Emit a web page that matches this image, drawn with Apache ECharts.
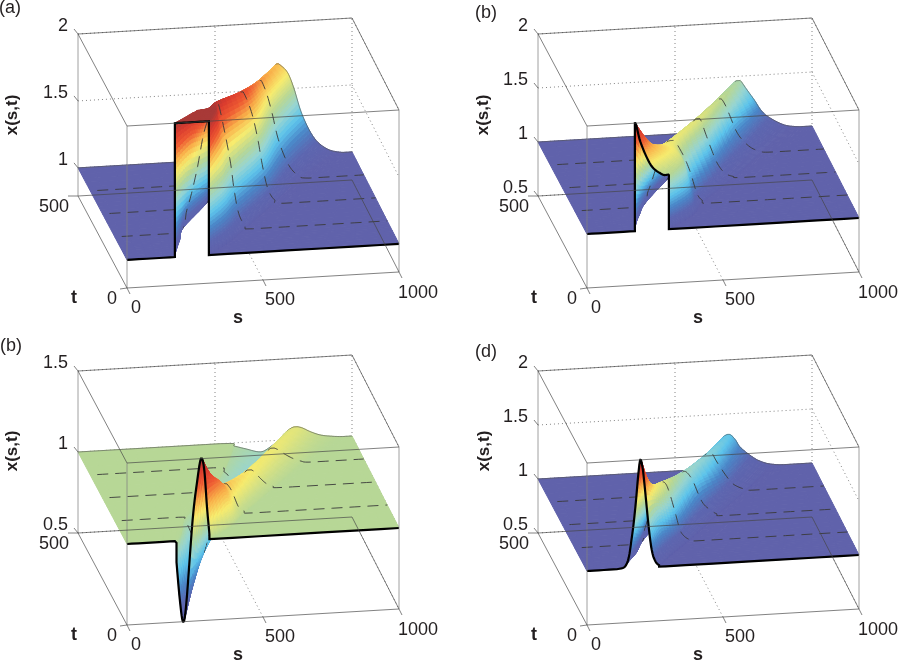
<!DOCTYPE html>
<html><head><meta charset="utf-8">
<style>html,body{margin:0;padding:0;background:#fff}#c{width:898px;height:661px}</style>
<script src="https://cdn.jsdelivr.net/npm/echarts@6/dist/echarts.min.js"></script>
</head><body><div id="c"></div>
<script>
// time rows of every surface mesh; the dashed isolines sit on t = 125, 250, 375
const tRows = [0, 60, 125, 250, 375, 500];
const dashedT = [125, 250, 375];
const sTicks = [0, 500, 1000];
const tTicks = [0, 500];

// Panel (a)
const sA = [
 [0,176,176,176,176,176,240,301,301,301,301,301,301,301,1000],
 [0,198,215,235,255,275,310,345,355,368,376,386,398,415,1000],
 [0,225,266,300,325,345,362,378,402,425,438,455,478,505,1000],
 [0,340,415,450,478,490,500,515,545,568,585,605,630,665,1000],
 [0,445,510,560,590,605,615,625,645,665,688,722,757,800,1000],
 [0,570,620,670,700,716,726,738,765,788,818,862,912,965,1000]];
const zA = [
 [1,1,1.25,1.5,1.75,2,2,2,1.75,1.5,1.3,1.12,1.03,1,1],
 [1,1,1.2,1.5,1.78,1.99,2,2,1.78,1.5,1.3,1.12,1.03,1,1],
 [1,1,1.18,1.45,1.72,1.85,1.93,1.96,1.75,1.5,1.3,1.12,1.03,1,1],
 [1,1,1.18,1.4,1.65,1.77,1.84,1.85,1.7,1.5,1.3,1.12,1.03,1,1],
 [1,1,1.2,1.47,1.65,1.72,1.75,1.75,1.65,1.5,1.3,1.12,1.03,1,1],
 [1,1,1.2,1.45,1.6,1.67,1.69,1.68,1.62,1.5,1.3,1.12,1.03,1,1]];
const zTicksA = [1, 1.5, 2];

// Panel (b), upper right
const sB = [
 [0,176,176,176,176,196,221,245,282,301,301,301,301,301,1000],
 [0,195,215,235,255,275,310,340,360,372,385,398,408,425,1000],
 [0,232,270,295,315,335,350,365,385,405,425,448,468,500,1000],
 [0,345,400,435,460,475,490,505,525,545,568,595,625,665,1000],
 [0,465,520,555,580,597,612,625,640,655,685,725,765,810,1000],
 [0,585,630,670,700,715,725,738,760,790,815,845,900,955,1000]];
const zB = [
 [1,1,1.3,1.65,2,1.826,1.67,1.57,1.505,1.5,1.35,1.17,1.04,1,1],
 [1,1,1.2,1.45,1.65,1.68,1.64,1.6,1.55,1.5,1.35,1.17,1.04,1,1],
 [1,1,1.15,1.33,1.48,1.58,1.6,1.6,1.52,1.42,1.29,1.1,1.03,1,1],
 [1,1,1.12,1.3,1.45,1.53,1.57,1.56,1.42,1.28,1.14,1.05,1.015,1,1],
 [1,1,1.12,1.28,1.4,1.48,1.52,1.52,1.46,1.37,1.19,1.07,1.015,1,1],
 [1,1,1.1,1.25,1.38,1.44,1.46,1.46,1.38,1.27,1.17,1.1,1.024,1,1]];
const zTicksB = [0.5, 1, 1.5, 2];

// Panel (b), lower left
const sC = [
 [0,176,182,194,206,218,241,257,272,284,294,303,303,320,1000],
 [0,205,222,240,258,272,288,305,330,350,370,390,405,425,1000],
 [0,235,258,285,318,338,355,375,400,420,435,455,475,505,1000],
 [0,350,385,410,435,460,478,500,530,555,575,600,625,660,1000],
 [0,450,490,520,550,580,605,630,660,685,710,740,770,810,1000],
 [0,520,570,610,665,700,730,760,788,815,850,886,925,965,1000]];
const zC = [
 [1,1,0.87,0.64,0.5,0.61,1.12,1.35,1.5,1.43,1.2,1.03,1,1,1],
 [1,1,0.97,0.8,0.64,0.72,0.9,1.08,1.28,1.3,1.25,1.12,1.03,1,1],
 [1,1,0.98,0.88,0.76,0.83,0.94,1.08,1.19,1.17,1.12,1.04,1.015,1,1],
 [1,1,0.97,0.9,0.83,0.88,0.96,1.06,1.12,1.11,1.07,1.03,1.01,1,1],
 [1,1,0.97,0.92,0.88,0.92,0.98,1.05,1.1,1.09,1.06,1.03,1.01,1,1],
 [1,1,0.98,0.96,0.935,0.96,1,1.05,1.077,1.07,1.04,1.017,1.006,1,1]];
const zTicksC = [0.5, 1, 1.5];

// Panel (d)
const sD = [
 [0,110,147,165,178,188,196,204,211,227,238,250,265,290,1000],
 [0,180,205,222,233,243,250,258,268,283,298,315,333,360,1000],
 [0,225,255,275,290,305,320,335,350,369,385,398,418,445,1000],
 [0,335,375,400,420,433,445,455,468,479,511,541,565,595,1000],
 [0,445,490,520,545,565,580,592,605,624,660,686,715,745,1000],
 [0,570,605,630,650,672,691,705,722,740,787,820,849,895,1000]];
const zD = [
 [1,1,1.05,1.29,1.57,1.85,2,1.93,1.78,1.37,1.16,1.06,1.015,1,1],
 [1,1,1.12,1.33,1.52,1.63,1.67,1.66,1.6,1.4,1.2,1.07,1.02,1,1],
 [1,1,1.13,1.3,1.44,1.53,1.565,1.54,1.44,1.27,1.12,1.06,1.02,1,1],
 [1,1,1.1,1.23,1.34,1.41,1.43,1.42,1.38,1.33,1.14,1.06,1.02,1,1],
 [1,1,1.08,1.18,1.28,1.35,1.37,1.36,1.3,1.22,1.09,1.04,1.012,1,1],
 [1,1,1.06,1.13,1.21,1.28,1.31,1.3,1.25,1.18,1.08,1.035,1.013,1,1]];
const zTicksD = [0.5, 1, 1.5, 2];

const colorStops = [
 [0,'#6062ab'],[0.1,'#5c66b0'],[0.2,'#4a86c8'],[0.3,'#5cc4ec'],[0.4,'#97d5d2'],[0.5,'#b7d796'],
 [0.62,'#f8ec6e'],[0.72,'#f9b04a'],[0.82,'#ee5a32'],[0.92,'#d93a2e'],[1,'#a83a38']];

const panels = [
 {name:'(a)',left:78, top:18, zMin:0.79,zMax:2,  cMin:1,  cMax:2,  s:sA,z:zA,zTicks:zTicksA,yLab:[-66,-81],nameAt:[-68,-188]},
 {name:'(b)',left:538,top:18, zMin:0.5, zMax:2,  cMin:1,  cMax:2,  s:sB,z:zB,zTicks:zTicksB,yLab:[-55,-81],nameAt:[-52,-183]},
 {name:'(b)',left:78, top:355,zMin:0.5, zMax:1.5,cMin:0.5,cMax:1.5,s:sC,z:zC,zTicks:zTicksC,yLab:[-66,-82],nameAt:[-67,-187]},
 {name:'(d)',left:538,top:355,zMin:0.5, zMax:2,  cMin:1,  cMax:2,  s:sD,z:zD,zTicks:zTicksD,yLab:[-54,-82],nameAt:[-52,-181]}];

const FONT = '"Liberation Sans", Arial, sans-serif', INK = '#231f20';
const NU = 7, NV = 6;

function project(p, s, t, z) {
  return [49 + 0.272*s - 0.098*t + 2*(s/1000)*(t/500),
          0.016*s + 0.184*t + (z - p.zMin)*162/(p.zMax - p.zMin)];
}
function cr(a, b, c, d, f) {
  const v = 0.5*((2*b) + (c-a)*f + (2*a-5*b+4*c-d)*f*f + (3*b-a-3*c+d)*f*f*f);
  return Math.min(Math.max(b,c), Math.max(Math.min(b,c), v));
}
function refine(pts, n) {
  const out = [];
  for (let i = 0; i < pts.length-1; i++) {
    const a = pts[Math.max(i-1,0)], b = pts[i], c = pts[i+1], d = pts[Math.min(i+2,pts.length-1)];
    for (let k = 0; k < n; k++) out.push(b.map((_,q) => cr(a[q],b[q],c[q],d[q],k/n)));
  }
  out.push(pts[pts.length-1].slice());
  return out;
}
function fineMesh(p) {
  const rows = tRows.map((t,i) => refine(p.s[i].map((s,j) => [s,t,p.z[i][j]]), NU));
  return rows[0].map((_,k) => refine(rows.map(r => r[k]), NV)); // fine[column][row]
}
function hex(c){return [1,3,5].map(i=>parseInt(c.substr(i,2),16));}
function colorAt(f){
  f = Math.max(0,Math.min(1,f));
  for (let i=0;i<colorStops.length-1;i++){
    const a=colorStops[i],b=colorStops[i+1];
    if(f<=b[0]){const m=(f-a[0])/(b[0]-a[0]),x=hex(a[1]),y=hex(b[1]);
      return 'rgb('+x.map((v,q)=>Math.round(v+(y[q]-v)*m)).join(',')+')';}
  }
  return colorStops[colorStops.length-1][1];
}

const grids=[],xAxes=[],yAxes=[],series=[];
panels.forEach((p,pi)=>{
  grids.push({left:p.left,top:p.top,width:321,height:270,containLabel:false});
  xAxes.push({type:'value',gridIndex:pi,min:0,max:321,show:false});
  yAxes.push({type:'value',gridIndex:pi,min:0,max:270,show:false});
  const base={type:'custom',coordinateSystem:'cartesian2d',xAxisIndex:pi,yAxisIndex:pi,silent:true,animation:false,clip:false};
  const P=(s,t,z)=>project(p,s,t,z), lo=p.zMin, hi=p.zMax;
  const seg=(a,b)=>[...P(...a),...P(...b)];
  const offSeg=(a,dx,dy)=>{const q=P(...a);return [q[0],q[1],q[0]+dx,q[1]-dy];};

  // dotted grid behind the surface
  const dotted=[seg([500,0,lo],[500,500,lo]),seg([500,500,lo],[500,500,hi]),seg([1000,500,lo],[1000,500,hi])];
  p.zTicks.forEach(z=>{dotted.push(seg([0,500,z],[1000,500,z]));dotted.push(seg([1000,500,z],[1000,0,z]));});
  const lineItem=(style)=>(params,api)=>{
    const a=api.coord([api.value(0),api.value(1)]),b=api.coord([api.value(2),api.value(3)]);
    return {type:'line',shape:{x1:a[0],y1:a[1],x2:b[0],y2:b[1]},style:style};
  };
  series.push({...base,z:1,data:dotted,renderItem:lineItem({stroke:'#777',lineWidth:0.9,lineDash:[1,3],fill:null})});

  // surface, painted from the back row to the front row
  const fine=fineMesh(p), nC=fine.length, strips=[];
  for(let i=tRows.length-1;i>=1;i--) strips.push([i]);
  series.push({...base,z:2,data:strips,renderItem:(params,api)=>{
    const i=api.value(0), children=[];
    const pt=(c,r)=>api.coord(P(...fine[c][r]));
    const rowLine=(r)=>{const a=[];for(let c=0;c<nC;c++)a.push(pt(c,r));return a;};
    const topR=i*NV;
    for(let r=topR;r>topR-NV;r--){
      for(let c=nC-2;c>=0;c--){
        const q=[fine[c][r],fine[c+1][r],fine[c+1][r-1],fine[c][r-1]];
        const zm=(q[0][2]+q[1][2]+q[2][2]+q[3][2])/4;
        const col=colorAt((zm-p.cMin)/(p.cMax-p.cMin));
        children.push({type:'polygon',shape:{points:[pt(c,r),pt(c+1,r),pt(c+1,r-1),pt(c,r-1)]},
          style:{fill:col,stroke:col,lineWidth:1}});
      }
      if(r===topR){
        if(dashedT.includes(tRows[i])) children.push({type:'polyline',shape:{points:rowLine(r)},
          style:{stroke:'#3a3a3a',lineWidth:0.9,lineDash:[11,7],lineDashOffset:11,fill:null}});
        if(i===tRows.length-1) children.push({type:'polyline',shape:{points:rowLine(r)},
          style:{stroke:'#555',lineWidth:0.6,fill:null}});
      }
    }
    if(i===1) children.push({type:'polyline',shape:{points:rowLine(0)},
      style:{stroke:'#000',lineWidth:2.2,fill:null,lineJoin:'miter'}});
    return {type:'group',children};
  }});

  // box edges and ticks in front of the surface
  const solid=[
    seg([0,500,hi],[1000,500,hi]),seg([0,500,hi],[0,0,hi]),seg([0,0,hi],[1000,0,hi]),seg([1000,0,hi],[1000,500,hi]),
    seg([0,500,lo],[1000,500,lo]),seg([0,500,lo],[0,0,lo]),seg([0,0,lo],[1000,0,lo]),seg([1000,0,lo],[1000,500,lo])];
  p.zTicks.forEach(z=>solid.push(offSeg([0,500,z],-4,-5)));
  sTicks.forEach(s=>solid.push(offSeg([s,0,lo],3,6)));
  tTicks.forEach(t=>solid.push(offSeg([0,t,lo],t?-10:-7,t?0:1)));
  const light=[seg([0,0,lo],[0,0,hi]),seg([1000,0,lo],[1000,0,hi]),seg([0,500,lo],[0,500,hi])];
  series.push({...base,z:3,data:light,renderItem:lineItem({stroke:'rgba(130,130,130,0.75)',lineWidth:1,fill:null})});
  series.push({...base,z:3,data:solid,renderItem:lineItem({stroke:'rgba(70,70,70,0.85)',lineWidth:0.8,fill:null})});

  // text
  const labels=[];
  const add=(q,dx,dy,text,align,bold,size,rot)=>labels.push({q,dx,dy,text,align,bold,size,rot});
  p.zTicks.forEach(z=>add(P(0,500,z),-10,-8,String(z),'right'));
  add(P(0,500,lo),-9,11,String(tTicks[1]),'right');
  add(P(0,0,lo),-10,11,String(tTicks[0]),'right');
  const sOff=[[9,20],[17,20],[19,21]];
  sTicks.forEach((s,i)=>add(P(s,0,lo),sOff[i][0],sOff[i][1],String(s),'center'));
  add(P(0,0,lo),-53,10,'t','center',true);
  add(P(500,0,lo),-25,38,'s','center',true);
  add(P(0,500,lo),p.yLab[0],p.yLab[1],'x(s,t)','center',true,17,Math.PI/2);
  add(P(0,500,lo),p.nameAt[0],p.nameAt[1],p.name,'center');
  series.push({...base,z:4,data:labels.map(l=>l.q),renderItem:(params,api)=>{
    const l=labels[params.dataIndex],c=api.coord([api.value(0),api.value(1)]);
    return {type:'text',x:c[0]+l.dx,y:c[1]+l.dy,rotation:l.rot||0,
      style:{text:l.text,fontFamily:FONT,fontSize:l.size||18,fontWeight:l.bold?'bold':'normal',
             fill:INK,align:l.align,verticalAlign:'middle'}};
  }});
});

const chart=echarts.init(document.getElementById('c'),null,{width:898,height:661});
chart.setOption({animation:false,backgroundColor:'#fff',grid:grids,xAxis:xAxes,yAxis:yAxes,series:series});
</script></body></html>
